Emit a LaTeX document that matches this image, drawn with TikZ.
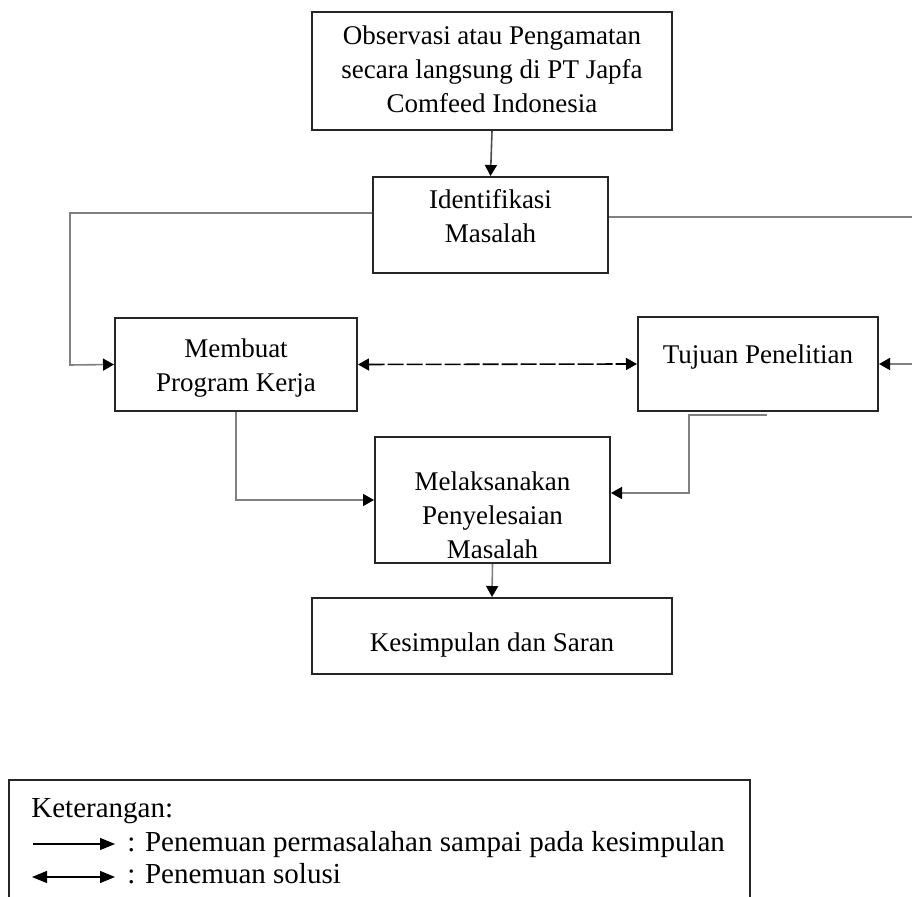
\documentclass[tikz,border=0pt]{standalone}
\usepackage{fontspec}
\setmainfont{Liberation Serif}
\usetikzlibrary{arrows.meta}

\begin{document}
\begin{tikzpicture}[x=0.5pt,y=-0.5pt,
  box/.style={draw=black!85, line width=1pt, inner sep=0pt},
  txt/.style={align=center, inner sep=0pt, font=\fontsize{13.5}{17}\selectfont},
  lgd/.style={inner sep=0pt, font=\fontsize{14.5}{17}\selectfont},
  link/.style={draw=gray, line width=0.8pt, -{Triangle[length=5.5pt,width=6pt,color=black]}},
  key/.style={draw=black, line width=0.6pt}]
\useasboundingbox (0,0) rectangle (912,897);
\clip (0,0) rectangle (912,897);
%boxes
\node[box, minimum width=180pt, minimum height=59pt] (obs) at (492,71) {};
\node[box, minimum width=117.5pt, minimum height=48pt] (iden) at (490.5,225) {};
\node[box, minimum width=121pt, minimum height=46.5pt] (prog) at (236,364.5) {};
\node[box, minimum width=120pt, minimum height=47pt] (tuju) at (758,364) {};
\node[box, minimum width=117.5pt, minimum height=63pt] (laks) at (492.5,500) {};
\node[box, minimum width=180pt, minimum height=38pt] (simp) at (492,636) {};
%texts
\node[txt] (obsT) at (492,69) {Observasi atau Pengamatan\\secara langsung di PT Japfa\\Comfeed Indonesia};
\node[txt] (idenT) at (490.5,216) {Identifikasi\\Masalah};
\node[txt] (progT) at (236,368) {Membuat\\Program Kerja};
\node[txt] (tujuT) at (758,357) {Tujuan Penelitian};
\node[txt] (laksT) at (492.5,515) {Melaksanakan\\Penyelesaian\\Masalah};
\node[txt] (simpT) at (492,645) {Kesimpulan dan Saran};
%connectors
\draw[link, draw=black!70] (obs.south) -- (iden.north);
\draw[link] ([yshift=6pt]iden.west) -| (70,365) -- (prog.west);
\draw[link] ([yshift=4pt]iden.east) -- (916,217) |- (tuju.east);
\draw[draw=black, line width=0.8pt, dash pattern=on 8pt off 1.5pt,
  {Triangle[length=5.5pt,width=6pt]}-{Triangle[length=5.5pt,width=6pt]}] (prog.east) -- (tuju.west);
\draw[link] (prog.south) |- (laks.west);
\coordinate (tstub) at (767,415);
\draw[link] (tstub) -- (689,415) |- ([yshift=3.5pt]laks.east);
\draw[link] (laks.south) -- (simp.north);
%legend
\draw[black!85, line width=1pt] (9,900) -- (9,780) -- (750,780) -- (750,900);
\node[lgd, anchor=base west] (ket) at (31,818) {Keterangan:};
\coordinate (k1a) at (33,844);
\coordinate (k1b) at (115,844);
\coordinate (k2a) at (32,877);
\coordinate (k2b) at (115,877);
\draw[key, -{Triangle[length=7.5pt,width=6pt]}] (k1a) -- (k1b);
\draw[key, {Triangle[length=7.5pt,width=6pt]}-{Triangle[length=7.5pt,width=6pt]}] (k2a) -- (k2b);
\node[lgd, anchor=base west] (ket1) at (127,852) {: Penemuan permasalahan sampai pada kesimpulan};
\node[lgd, anchor=base west] (ket2) at (127,884) {: Penemuan solusi};
\end{tikzpicture}
\end{document}
